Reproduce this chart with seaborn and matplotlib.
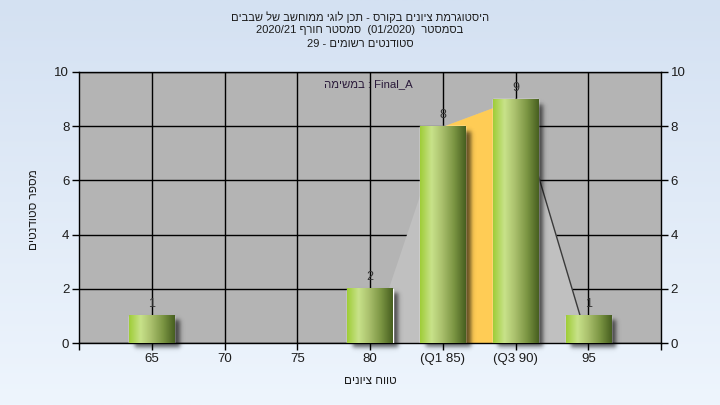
import numpy as np
import matplotlib
matplotlib.use("Agg")
import matplotlib.pyplot as plt
from matplotlib.colors import LinearSegmentedColormap
import seaborn as sns

# --- DATA ---
grade_labels = ["65", "70", "75", "80", "(Q1 85)", "(Q3 90)", "95"]
student_counts = [1, 0, 0, 2, 8, 9, 1]
# area series drawn behind the bars (Q1..Q3 highlighted)
range_area = [np.nan, np.nan, np.nan, 0, 8, 9, 0]
y_ticks = [0, 2, 4, 6, 8, 10]


def heb(s):
    """matplotlib has no bidi support -> hand it visual order."""
    return s[::-1]


title_1 = heb("היסטוגרמת ציונים בקורס - תכן לוגי ממוחשב של שבבים")
title_2 = "2020/21 " + heb("סמסטר חורף") + "  (01/2020)  " + heb("בסמסטר")
title_3 = "29 - " + heb("סטודנטים רשומים")
y_label = heb("מספר סטודנטים")
x_label = heb("טווח ציונים")
task_label = heb("במשימה") + " : Final_A"

# --- STYLE ---
sns.set_theme(style="ticks")
plt.rcParams['font.family'] = ['Liberation Sans Narrow', 'Liberation Sans', 'DejaVu Sans']
txt_color = "#1c1c1c"

fig = plt.figure(figsize=(7.2, 4.05), dpi=100)

# background gradient (light blue)
bg = fig.add_axes([0, 0, 1, 1], zorder=-10)
bg_cmap = LinearSegmentedColormap.from_list("bg", ["#d4e1f2", "#eef5fd"])
bg.imshow(np.linspace(0, 1, 256).reshape(-1, 1), aspect="auto", cmap=bg_cmap,
          extent=[0, 1, 0, 1])
bg.axis("off")

ax = fig.add_axes([79 / 720, 1 - 343 / 405, 582 / 720, 271 / 405])
ax.set_facecolor("#b4b4b4")

# area behind the bars
xs = np.arange(len(grade_labels))
area = np.array(range_area, dtype=float)
ok = ~np.isnan(area)
ax.fill_between(xs[ok], 0, area[ok], color="#c0c0c0", lw=0, zorder=1.5)
iqr = [grade_labels.index("(Q1 85)"), grade_labels.index("(Q3 90)")]
ax.fill_between(xs[iqr[0]:iqr[1] + 1], 0, area[iqr[0]:iqr[1] + 1],
                color="#ffcc55", lw=0, zorder=1.6)
ax.plot(xs[iqr[1]:iqr[1] + 2], area[iqr[1]:iqr[1] + 2], color="#3a3a3a",
        lw=1, zorder=1.7)

# bars
sns.barplot(x=grade_labels, y=student_counts, width=0.62, color="#8fb04a",
            ax=ax, zorder=3, saturation=1)

bar_cmap = LinearSegmentedColormap.from_list(
    "cyl", ["#9fcd38", "#c8e28a", "#a7bd6a", "#7a9442", "#475f20"])
grad = np.linspace(0, 1, 128).reshape(1, -1)
px = 8 / 582   # one pixel in data units (x)
py = 10 / 271  # one pixel in data units (y)


def soft_shadow(x0, w, h):
    off_x, off_y = 5 * px, 5 * py
    bx, by = 2.5 * px, 2.5 * py
    left, right = x0 + off_x, x0 + w + off_x
    bottom, top = -off_y, h - off_y
    gx = np.linspace(left - 3 * bx, right + 3 * bx, 80)
    gy = np.linspace(bottom - 3 * by, top + 3 * by, 120)
    fx = 0.5 * (np.tanh((gx - left) / bx) - np.tanh((gx - right) / bx))
    fy = 0.5 * (np.tanh((gy - bottom) / by) - np.tanh((gy - top) / by))
    rgba = np.zeros((len(gy), len(gx), 4))
    rgba[..., 3] = np.outer(fy, fx) * 0.6
    im = ax.imshow(rgba, extent=[gx[0], gx[-1], gy[0], gy[-1]], origin="lower",
                   aspect="auto", zorder=2, interpolation="bilinear")
    im.set_clip_on(False)


for patch, val in zip(ax.patches, student_counts):
    if val <= 0:
        patch.set_visible(False)
        continue
    x0, w, h = patch.get_x(), patch.get_width(), patch.get_height()
    soft_shadow(x0, w, h)
    ax.imshow(grad, extent=[x0, x0 + w, 0, h], aspect="auto", cmap=bar_cmap,
              zorder=3.5, interpolation="bilinear")
    ax.annotate(str(val), (x0 + w / 2, h), xytext=(0, 4),
                textcoords="offset points", ha="center", va="bottom",
                fontsize=9, color="#333333")

ax.set_xlim(-1, len(grade_labels))
ax.set_ylim(0, 10)
ax.set_yticks(y_ticks)
ax.set_xticks(xs, grade_labels)
ax.set_xticks([-1, len(grade_labels)], minor=True)
ax.set_axisbelow(True)
ax.grid(True, color="black", lw=1)
for sp in ax.spines.values():
    sp.set_color("black")
    sp.set_linewidth(1)
ax.tick_params(axis="both", direction="out", length=5, width=1, color="black",
               labelsize=9.5, labelcolor=txt_color, pad=2)
ax.tick_params(axis="x", which="minor", direction="out", length=5, width=1,
               color="black", bottom=True)
ax.tick_params(axis="y", right=True, labelright=True)
ax.set_xlabel("")
ax.set_ylabel("")

ax.text(0.498, 0.956, task_label, transform=ax.transAxes, ha="center",
        va="center", fontsize=8.2, color="#2a1a3a")

fig.text(0.5, 1 - 17 / 405, title_1, ha="center", va="center", fontsize=8, color=txt_color)
fig.text(0.5, 1 - 30 / 405, title_2, ha="center", va="center", fontsize=8, color=txt_color)
fig.text(0.5, 1 - 44 / 405, title_3, ha="center", va="center", fontsize=8, color=txt_color)
fig.text(370 / 720, 1 - 381 / 405, x_label, ha="center", va="center", fontsize=8.5, color=txt_color)
fig.text(34 / 720, 1 - 210 / 405, y_label, ha="center", va="center", rotation=90,
         fontsize=8.5, color=txt_color)

fig.savefig("out.png", dpi=100)
